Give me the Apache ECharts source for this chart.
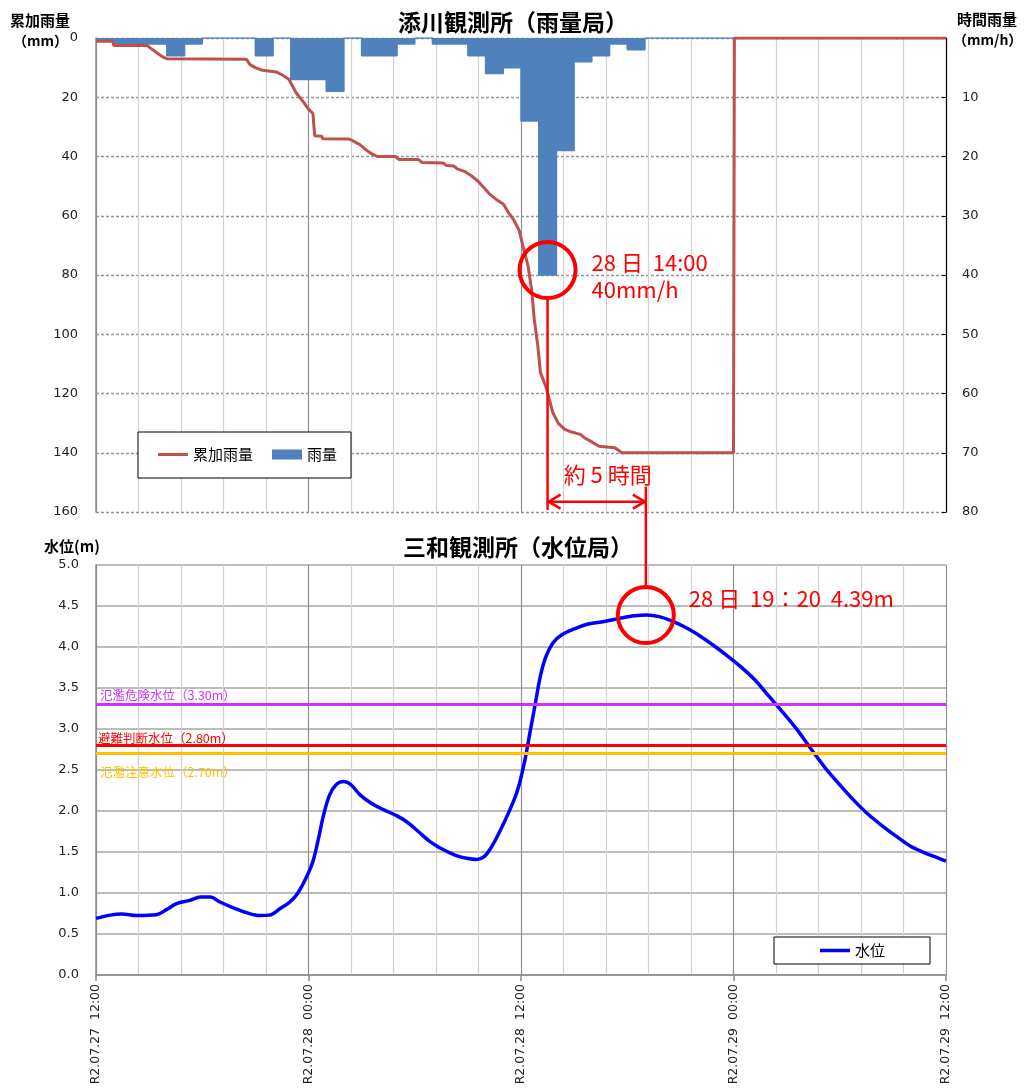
<!DOCTYPE html>
<html><head><meta charset="utf-8">
<script src="https://cdn.jsdelivr.net/npm/echarts@6/dist/echarts.min.js"></script>
<style>html,body{margin:0;padding:0;background:#fff}#c{width:1025px;height:1090px}</style>
</head><body><div id="c"></div>
<script>
// ---- data ----
const timeTickLabels = ['R2.07.27  12:00','R2.07.28  00:00','R2.07.28  12:00','R2.07.29  00:00','R2.07.29  12:00'];
// hourly rainfall (mm/h), hour k = [k, k+1) from R2.07.27 12:00
const rainHourly = [0.5,1,1,1,3,1,0,0,0,3,0,7,7,9,0,3,3,1,0,1,1,3,6,5,14,40,19,4,3,1,2,0,0,0,0,0,0,0,0,0,0,0,0,0,0,0,0,0];
// cumulative rainfall (mm)
const cumHours = [0,0.95,1.0,2.88,3.1,3.4,3.55,3.8,4.0,8.5,8.7,9.0,9.3,9.5,10.2,10.5,10.9,11.3,11.7,12.0,12.25,12.35,12.75,12.8,14.3,14.6,14.9,15.3,15.6,15.9,16.9,17.1,18.2,18.4,19.6,19.8,20.2,20.4,20.8,21.2,21.6,21.9,22.2,22.6,23.0,23.3,23.6,23.9,24.1,24.4,24.6,24.75,24.95,25.1,25.4,25.6,25.8,26.1,26.45,26.85,27.35,27.6,27.9,28.4,29.3,29.7,36.0,36.05,48];
const cumValues = [1.1,1.1,2.5,2.5,3.5,4.8,5.5,6.5,7,7.2,9,10,10.7,11,11.5,12.4,14,18.5,21.5,24,25.5,33,33.2,34,34.1,35,36,38,39.2,40,40,41,41,42,42.2,43,43.2,44.2,45,46.5,48.5,50.5,52.5,54.5,56,59,61.5,65,70,77,85,95,104,113,117.6,122,126.5,130,132,133,133.8,135,136,137.8,138.3,140,140,0,0];
// water level (m)
const levelHours = [0,0.8,1.45,2.3,3.4,4.0,4.55,5.3,5.9,6.45,7.0,7.75,8.5,9.26,9.8,10.4,10.95,11.4,11.9,12.27,12.6,12.85,13.2,13.6,14.0,14.4,14.9,15.5,16.2,17.0,17.6,18.2,18.9,19.6,20.3,21.0,21.5,21.9,22.3,22.8,23.3,23.8,24.2,24.5,24.8,25.1,25.4,25.8,26.3,27.0,27.8,28.7,29.6,30.4,31.1,31.8,32.5,33.2,34.0,34.8,35.6,36.4,37.2,38.0,38.8,39.6,40.4,41.2,42.0,42.8,43.6,44.4,45.2,46.0,46.8,47.4,48];
const levelValues = [0.69,0.73,0.745,0.725,0.735,0.80,0.87,0.91,0.95,0.95,0.89,0.82,0.76,0.725,0.73,0.81,0.89,1.0,1.2,1.40,1.7,1.95,2.2,2.33,2.36,2.32,2.2,2.1,2.02,1.94,1.86,1.75,1.62,1.53,1.46,1.42,1.41,1.44,1.55,1.75,1.98,2.25,2.6,2.95,3.3,3.65,3.88,4.05,4.15,4.22,4.28,4.31,4.35,4.38,4.39,4.37,4.32,4.25,4.15,4.03,3.90,3.76,3.60,3.40,3.20,2.99,2.75,2.52,2.32,2.13,1.96,1.82,1.69,1.57,1.49,1.44,1.39];
const thresholdNames = ['氾濫危険水位（3.30m）','避難判断水位（2.80m）','氾濫注意水位（2.70m）'];
const thresholdValues = [3.30, 2.80, 2.70];
const thresholdColors = ['#CC33FF','#FF0000','#FFC000'];
const rainPeak = [25.5, 40];     // 28日 14:00 40mm/h
const levelPeak = [31.05, 4.39]; // 28日 19:20 4.39m

// ---- build ----
const rainData = rainHourly.map((v,k)=>[k,v]); rainData.push([48,0]);
const cumData = cumHours.map((h,i)=>[h,cumValues[i]]);
const levelData = levelHours.map((h,i)=>[h,levelValues[i]]);
const NUM = 'DejaVu Sans', JP = 'Noto Sans CJK JP';

function makeX(gridIndex, show){
  return {type:'value', gridIndex, min:0, max:48, interval:12,
    axisLine:{show:show, lineStyle:{color:'#8c8c8c', width:1.5}},
    axisTick:{show:show, length:6, lineStyle:{color:'#8c8c8c', width:1.5}},
    axisLabel:{show:show, rotate:90, fontSize:12.5, fontFamily:NUM, color:'#222', margin:9,
      formatter: v => (Math.abs(v/12-Math.round(v/12))<1e-6 ? (timeTickLabels[Math.round(v/12)]||'') : '')},
    splitLine:{show:true, lineStyle:{color:'#8f8f8f', width:1.2}},
    minorTick:{show:false, splitNumber:5},
    minorSplitLine:{show:true, lineStyle:{color:'#d2d2d2', width:1.2}}
  };
}

const labelDist = [[4,3],[2,1],[4,12]];
const markLineData = thresholdValues.map((v,i)=>({
  yAxis:v, name:thresholdNames[i],
  lineStyle:{color:thresholdColors[i], width:3, type:'solid'},
  label:{show:true, formatter:thresholdNames[i], color:thresholdColors[i], fontSize:12.5, fontFamily:JP,
    position: i===2 ? 'insideStartBottom' : 'insideStartTop', distance: labelDist[i]}
}));

const chart = echarts.init(document.getElementById('c'), null, {renderer:'canvas'});
const option = {
  animation:false,
  backgroundColor:'#fff',
  grid:[
    {left:96, right:79, top:38, height:474},
    {left:96, right:79, top:565, height:410}
  ],
  xAxis:[makeX(0,false), makeX(1,true)],
  yAxis:[
    {type:'value', gridIndex:0, inverse:true, min:0, max:160, interval:20,
      axisLine:{show:true, lineStyle:{color:'#8c8c8c', width:1.5}}, axisTick:{show:false},
      axisLabel:{fontSize:13, fontFamily:NUM, color:'#222', margin:18},
      splitLine:{lineStyle:{color:'#8a98a6', type:[3,2], width:1.3}}},
    {type:'value', gridIndex:0, inverse:true, min:0, max:80, interval:10, position:'right',
      axisLine:{show:true, lineStyle:{color:'#000', width:1.2}},
      axisTick:{show:true, inside:true, length:4, lineStyle:{color:'#000'}},
      axisLabel:{fontSize:13, fontFamily:NUM, color:'#222', margin:16, formatter:v=>(v===0?'':String(v))},
      splitLine:{show:false}},
    {type:'value', gridIndex:1, min:0, max:5, interval:0.5,
      axisLine:{show:true, lineStyle:{color:'#8c8c8c', width:1.5}}, axisTick:{show:false},
      axisLabel:{fontSize:13, fontFamily:NUM, color:'#222', margin:17, formatter:v=>v.toFixed(1)},
      splitLine:{lineStyle:{color:'#a6a6a6', width:1.5}}}
  ],
  legend:[
    {left:138, top:432, orient:'horizontal', itemWidth:30, itemHeight:10, itemGap:19,
      padding:[15,14,16,20], borderColor:'#000', borderWidth:1, backgroundColor:'#fff',
      textStyle:{fontSize:15, fontFamily:JP, color:'#000'},
      data:[{name:'累加雨量', icon:'path://M0,0H30V3H0Z'}, {name:'雨量', icon:'rect'}]},
    {left:774, top:937, itemWidth:30, itemHeight:10,
      padding:[6,45,6,46], borderColor:'#000', borderWidth:1, backgroundColor:'#fff',
      textStyle:{fontSize:15, fontFamily:JP, color:'#000'},
      data:[{name:'水位', icon:'path://M0,0H30V3.5H0Z'}]}
  ],
  series:[
    {name:'雨量', type:'line', xAxisIndex:0, yAxisIndex:1, step:'end', data:rainData,
      showSymbol:false, symbol:'none', color:'#4F81BD',
      lineStyle:{color:'#4F81BD', width:1.5}, areaStyle:{color:'#4F81BD', opacity:1}, z:2},
    {name:'累加雨量', type:'line', xAxisIndex:0, yAxisIndex:0, data:cumData,
      showSymbol:false, symbol:'none', color:'#C0504D',
      lineStyle:{color:'#C0504D', width:3}, z:3},
    {name:'水位', type:'line', xAxisIndex:1, yAxisIndex:2, data:levelData, smooth:0.35,
      showSymbol:false, symbol:'none', color:'#0000FF',
      lineStyle:{color:'#0000FF', width:3.5}, z:4,
      markLine:{silent:true, symbol:'none', animation:false, data:markLineData}}
  ]
};
chart.setOption(option);

// ---- annotations (positions from the axes) ----
const RED = '#FF0000';
const c1 = chart.convertToPixel({xAxisIndex:0, yAxisIndex:1}, rainPeak); c1[1] -= 5;
const c2 = chart.convertToPixel({xAxisIndex:1, yAxisIndex:2}, levelPeak);
const topBottom = chart.convertToPixel({xAxisIndex:0, yAxisIndex:0}, [0,160])[1];
const arrowY = chart.convertToPixel({xAxisIndex:0, yAxisIndex:0}, [0,156.5])[1];
const R = 28;
const txt = (x,y,text,size,opts={}) => ({type:'text', x, y, z:100,
  style:{text, font:(opts.bold?'bold ':'')+size+'px "'+(opts.family||JP)+'"', fill:opts.fill||'#000',
    align:opts.align||'left', verticalAlign:'middle'}});
const graphic = [
  txt(398,22,'添川観測所（雨量局）',23,{bold:true}),
  txt(403,547,'三和観測所（水位局）',23,{bold:true}),
  txt(10,20,'累加雨量',15,{bold:true}),
  txt(13,41,'（mm）',14,{bold:true}),
  txt(957,19,'時間雨量',15,{bold:true}),
  txt(953,40,'（mm/h）',14,{bold:true}),
  txt(44,546,'水位(m)',15,{bold:true}),
  {type:'circle', z:100, shape:{cx:c1[0], cy:c1[1], r:R}, style:{fill:'none', stroke:RED, lineWidth:4}},
  {type:'circle', z:100, shape:{cx:c2[0], cy:c2[1], r:R}, style:{fill:'none', stroke:RED, lineWidth:4}},
  {type:'line', z:100, shape:{x1:c1[0], y1:c1[1]+R, x2:c1[0], y2:topBottom-2}, style:{stroke:RED, lineWidth:2.5}},
  {type:'line', z:100, shape:{x1:c2[0], y1:arrowY-15, x2:c2[0], y2:c2[1]-R}, style:{stroke:RED, lineWidth:2.5}},
  {type:'line', z:100, shape:{x1:c1[0], y1:arrowY, x2:c2[0], y2:arrowY}, style:{stroke:RED, lineWidth:2.5}},
  {type:'polyline', z:100, shape:{points:[[c1[0]+13,arrowY-7],[c1[0]+1,arrowY],[c1[0]+13,arrowY+7]]}, style:{fill:'none', stroke:RED, lineWidth:2.5}},
  {type:'polyline', z:100, shape:{points:[[c2[0]-13,arrowY-7],[c2[0]-1,arrowY],[c2[0]-13,arrowY+7]]}, style:{fill:'none', stroke:RED, lineWidth:2.5}},
  txt(c1[0]+44, c1[1]-7, '28 日  14:00', 22, {fill:RED}),
  txt(c1[0]+44, c1[1]+20, '40mm/h', 22, {fill:RED}),
  txt((c1[0]+c2[0])/2+11, arrowY-27, '約 5 時間', 22, {fill:RED, align:'center'}),
  txt(c2[0]+43, c2[1]-16, '28 日  19：20  4.39m', 22, {fill:RED})
];
chart.setOption({graphic});
</script></body></html>
